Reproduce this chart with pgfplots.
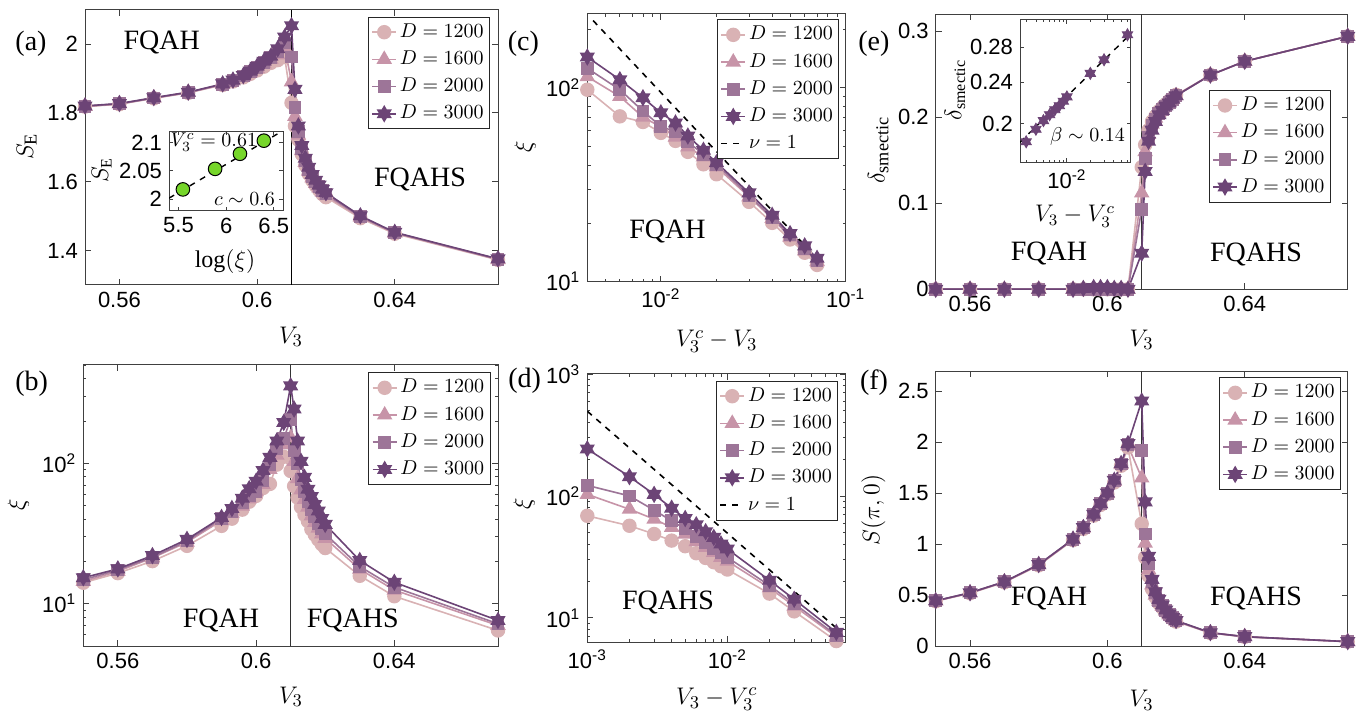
\documentclass[border=0pt]{standalone}
\usepackage{fontspec}
\setmainfont{Liberation Serif}
\newfontfamily\tickfont{Liberation Sans}
\usepackage{pgfplots}
\pgfplotsset{compat=1.18}
\definecolor{c1}{RGB}{217,178,180}
\definecolor{c2}{RGB}{199,148,168}
\definecolor{c3}{RGB}{157,117,152}
\definecolor{c4}{RGB}{108,68,118}
\definecolor{gr}{RGB}{118,214,42}
\newcommand{\tickfs}{\tickfont\fontsize{11}{13}\selectfont}
\newcommand{\legfs}{\fontsize{10}{12}\selectfont}
\newcommand{\labfs}{\fontsize{13}{15}\selectfont}
\newcommand{\phfs}{\fontsize{14}{16}\selectfont}
\newcommand{\insfs}{\fontsize{10}{12}\selectfont}
\newcommand{\inslabfs}{\fontsize{12}{14}\selectfont}
\pgfdeclareplotmark{hexagram}{%
  \pgfpathmoveto{\pgfqpointpolar{90}{\pgfplotmarksize}}%
  \pgfpathlineto{\pgfqpointpolar{210}{\pgfplotmarksize}}%
  \pgfpathlineto{\pgfqpointpolar{330}{\pgfplotmarksize}}%
  \pgfpathclose
  \pgfpathmoveto{\pgfqpointpolar{270}{\pgfplotmarksize}}%
  \pgfpathlineto{\pgfqpointpolar{30}{\pgfplotmarksize}}%
  \pgfpathlineto{\pgfqpointpolar{150}{\pgfplotmarksize}}%
  \pgfpathclose
  \pgfusepathqfillstroke
}
\pgfplotsset{
  base/.style={scale only axis, anchor=south west,
    axis line style={draw=black!75, line width=0.5pt},
    tick style={draw=black!75, line width=0.4pt},
    major tick length=3pt, minor tick length=1.6pt, tick align=inside,
    tick label style={font=\tickfs},
    legend cell align=left,
    legend style={draw=black!85, line width=0.5pt, font=\legfs, fill=white,
      inner xsep=1.5pt, inner ysep=1pt, row sep=0.6pt,
      nodes={text height=7pt, text depth=2pt, inner ysep=2pt, inner xsep=1.5pt}},
    legend image code/.code={\draw[mark repeat=2,mark phase=2,##1] plot coordinates {(0cm,0cm)(0.21cm,0cm)(0.42cm,0cm)};},
  },
  lxl/.style={xticklabel={\pgfmathparse{int(round(\tick/2.302585093))}10\textsuperscript{\pgfmathresult}}},
  lyl/.style={yticklabel={\pgfmathparse{int(round(\tick/2.302585093))}10\textsuperscript{\pgfmathresult}}},
  s1/.style={color=c1, line width=0.8pt, mark=*, mark size=3.2pt, mark options={solid, fill=c1, draw=c1}},
  s2/.style={color=c2, line width=0.8pt, mark=triangle*, mark size=3.7pt, mark options={solid, fill=c2, draw=c2}},
  s3/.style={color=c3, line width=0.8pt, mark=square*, mark size=2.8pt, mark options={solid, fill=c3, draw=c3}},
  s4/.style={color=c4, line width=0.8pt, mark=hexagram, mark size=3.6pt, mark options={solid, fill=c4, draw=c4}},
  vline/.style={black!80, line width=0.6pt, mark=none, forget plot},
  nu/.style={black, dashed, line width=0.8pt, mark=none},
  vtick/.style={xmin=0.55, xmax=0.67, xtick={0.56,0.6,0.64}, xticklabels={0.56,0.6,0.64}},
}
\begin{document}
\begin{tikzpicture}
\path[use as bounding box] (0,0) rectangle (682pt,356.5pt);

% ---------- (a)
\begin{axis}[base, vtick, at={(42.5pt,214pt)}, width=206.5pt, height=137.75pt,
  ymin=1.3, ymax=2.1, ytick={1.4,1.6,1.8,2}, yticklabels={1.4,1.6,1.8,2},
  legend style={at={(0.9813,0.9739)}, anchor=north east}]
\addplot[vline, black] coordinates {(0.61,1.3) (0.61,2.1)};
\addplot[s1] coordinates {(0.55,1.818)(0.56,1.825)(0.57,1.842)(0.58,1.858)(0.59,1.881)(0.593,1.891)(0.596,1.903)(0.598,1.913)(0.6,1.923)(0.602,1.934)(0.604,1.945)(0.606,1.953)(0.608,1.962)(0.61,1.829)(0.611,1.762)(0.612,1.722)(0.613,1.680)(0.614,1.648)(0.615,1.623)(0.616,1.604)(0.617,1.589)(0.618,1.576)(0.619,1.564)(0.62,1.555)(0.63,1.494)(0.64,1.449)(0.67,1.373)};
\addlegendentry{$D=1200$}
\addplot[s2] coordinates {(0.55,1.819)(0.56,1.826)(0.57,1.843)(0.58,1.859)(0.59,1.882)(0.593,1.893)(0.596,1.905)(0.598,1.917)(0.6,1.929)(0.602,1.942)(0.604,1.955)(0.606,1.968)(0.608,1.990)(0.61,1.890)(0.611,1.790)(0.612,1.735)(0.613,1.690)(0.614,1.656)(0.615,1.631)(0.616,1.611)(0.617,1.595)(0.618,1.582)(0.619,1.570)(0.62,1.560)(0.63,1.497)(0.64,1.451)(0.67,1.374)};
\addlegendentry{$D=1600$}
\addplot[s3] coordinates {(0.55,1.819)(0.56,1.826)(0.57,1.843)(0.58,1.859)(0.59,1.883)(0.593,1.894)(0.596,1.907)(0.598,1.919)(0.6,1.932)(0.602,1.946)(0.604,1.960)(0.606,1.977)(0.608,2.003)(0.61,1.962)(0.611,1.815)(0.612,1.745)(0.613,1.697)(0.614,1.662)(0.615,1.636)(0.616,1.615)(0.617,1.599)(0.618,1.586)(0.619,1.574)(0.62,1.564)(0.63,1.499)(0.64,1.452)(0.67,1.375)};
\addlegendentry{$D=2000$}
\addplot[s4] coordinates {(0.55,1.820)(0.56,1.827)(0.57,1.844)(0.58,1.860)(0.59,1.884)(0.593,1.895)(0.596,1.908)(0.598,1.921)(0.6,1.935)(0.602,1.950)(0.604,1.964)(0.606,1.986)(0.608,2.020)(0.61,2.053)(0.611,1.868)(0.612,1.762)(0.613,1.705)(0.614,1.668)(0.615,1.642)(0.616,1.621)(0.617,1.604)(0.618,1.590)(0.619,1.578)(0.62,1.568)(0.63,1.501)(0.64,1.453)(0.67,1.376)};
\addlegendentry{$D=3000$}
\end{axis}

% ---------- (a) inset
\begin{axis}[base, at={(84.5pt,251.15pt)}, width=57.15pt, height=39.85pt,
  xmin=5.4, xmax=6.6, ymin=1.98, ymax=2.12, major tick length=2pt,
  xtick={5.5,6,6.5}, xticklabels={5.5,6,6.5}, ytick={2,2.05,2.1}, yticklabels={2,2.05,2.1},
  axis background/.style={fill=white}]
\addplot[only marks, mark=*, mark size=3.4pt, mark options={fill=gr, draw=black, line width=0.5pt}] coordinates {(5.546,2.0174)(5.884,2.0535)(6.145,2.080)(6.396,2.103)};
\addplot[black, dashed, line width=0.7pt, mark=none] coordinates {(5.4,2.002)(6.6,2.121)};
\node[anchor=west, font=\insfs, inner sep=0pt] at (rel axis cs:0.01,0.86) {$V_3^c=0.61$};
\node[anchor=east, font=\insfs, inner sep=0pt] at (rel axis cs:0.93,0.14) {$c\sim 0.6$};
\end{axis}

% ---------- (b)
\begin{axis}[base, vtick, ymode=log, lyl, at={(41.65pt,33.5pt)}, width=207.35pt, height=140.5pt,
  ymin=5, ymax=500,
  legend style={at={(0.9824,0.974)}, anchor=north east}]
\addplot[vline] coordinates {(0.61,5) (0.61,500)};
\addplot[s1] coordinates {(0.55,14.1)(0.56,16.5)(0.57,20.1)(0.58,25.8)(0.59,35.8)(0.593,40.3)(0.596,46.7)(0.598,53.2)(0.6,58.5)(0.602,66.6)(0.604,71.2)(0.606,97.7)(0.608,111)(0.61,88)(0.611,68.7)(0.612,56.9)(0.613,48.7)(0.614,43.0)(0.615,38.7)(0.616,33.9)(0.617,31.0)(0.618,28.6)(0.619,26.5)(0.62,24.9)(0.63,15.8)(0.64,11.3)(0.67,6.45)};
\addlegendentry{$D=1200$}
\addplot[s2] coordinates {(0.55,14.4)(0.56,17.0)(0.57,21.2)(0.58,27.4)(0.59,39.1)(0.593,44.0)(0.596,49.5)(0.598,55.7)(0.6,62.8)(0.602,70.6)(0.604,90.2)(0.606,114)(0.608,135)(0.61,152)(0.611,103)(0.612,77.8)(0.613,64.5)(0.614,55.2)(0.615,48.7)(0.616,42.2)(0.617,37.9)(0.618,34.5)(0.619,31.4)(0.62,29.2)(0.63,17.6)(0.64,12.5)(0.67,7.0)};
\addlegendentry{$D=1600$}
\addplot[s3] coordinates {(0.55,14.8)(0.56,17.4)(0.57,21.4)(0.58,27.9)(0.59,40.3)(0.593,45.4)(0.596,52.5)(0.598,59.2)(0.6,63.2)(0.602,75.8)(0.604,97.7)(0.606,126)(0.608,150)(0.61,205)(0.611,122)(0.612,100)(0.613,76.4)(0.614,62.5)(0.615,53.5)(0.616,46.6)(0.617,41.7)(0.618,37.2)(0.619,34.1)(0.62,31.4)(0.63,18.4)(0.64,13.1)(0.67,7.2)};
\addlegendentry{$D=2000$}
\addplot[s4] coordinates {(0.55,15.3)(0.56,17.7)(0.57,22.0)(0.58,28.7)(0.59,41.1)(0.593,47.6)(0.596,56.4)(0.598,65.8)(0.6,74.3)(0.602,88.8)(0.604,110)(0.606,144)(0.608,195)(0.61,355)(0.611,243)(0.612,143.8)(0.613,103)(0.614,79.3)(0.615,65.3)(0.616,58.0)(0.617,50.9)(0.618,45.7)(0.619,40.4)(0.62,36.7)(0.63,20.3)(0.64,14.2)(0.67,7.6)};
\addlegendentry{$D=3000$}
\end{axis}

% ---------- (c)
\begin{axis}[base, xmode=log, ymode=log, lxl, lyl, at={(293.65pt,215.65pt)}, width=129.2pt, height=133.85pt,
  xmin=0.004, xmax=0.1, ymin=10, ymax=240,
  ytick={10,100}, minor ytick={20,30,40,50,60,70,80,90,200},
  legend style={at={(0.9752,0.98)}, anchor=north east}]
\addplot[s1] coordinates {(0.004,97.7)(0.006,71.2)(0.008,66.6)(0.01,58.5)(0.012,53.2)(0.014,46.7)(0.017,40.3)(0.02,35.8)(0.03,25.8)(0.04,20.1)(0.05,16.5)(0.06,14.1)(0.07,12.2)};
\addlegendentry{$D=1200$}
\addplot[s2] coordinates {(0.004,114)(0.006,90.2)(0.008,70.6)(0.01,62.8)(0.012,55.7)(0.014,49.5)(0.017,44.0)(0.02,39.1)(0.03,27.4)(0.04,21.2)(0.05,17.0)(0.06,14.4)(0.07,12.7)};
\addlegendentry{$D=1600$}
\addplot[s3] coordinates {(0.004,126)(0.006,97.7)(0.008,75.8)(0.01,63.2)(0.012,59.2)(0.014,52.5)(0.017,45.4)(0.02,40.3)(0.03,27.9)(0.04,21.4)(0.05,17.4)(0.06,14.8)(0.07,12.9)};
\addlegendentry{$D=2000$}
\addplot[s4] coordinates {(0.004,144)(0.006,110)(0.008,88.8)(0.01,74.3)(0.012,65.8)(0.014,56.4)(0.017,47.6)(0.02,41.1)(0.03,28.7)(0.04,22.0)(0.05,17.7)(0.06,15.3)(0.07,13.2)};
\addlegendentry{$D=3000$}
\addplot[nu] coordinates {(0.0043,222)(0.07,13.2)};
\addlegendentry{$\nu=1$}
\end{axis}

% ---------- (d)
\begin{axis}[base, xmode=log, ymode=log, lxl, lyl, at={(293.65pt,35.35pt)}, width=129.2pt, height=134.15pt,
  xmin=0.001, xmax=0.07, ymin=6.3, ymax=1000,
  legend style={at={(0.9713,0.975)}, anchor=north east}]
\addplot[s1] coordinates {(0.001,68.7)(0.002,56.9)(0.003,48.7)(0.004,43.0)(0.005,38.7)(0.006,33.9)(0.007,31.0)(0.008,28.6)(0.009,26.5)(0.01,24.9)(0.02,15.8)(0.03,11.3)(0.06,6.45)};
\addlegendentry{$D=1200$}
\addplot[s2] coordinates {(0.001,103)(0.002,77.8)(0.003,64.5)(0.004,55.2)(0.005,48.7)(0.006,42.2)(0.007,37.9)(0.008,34.5)(0.009,31.4)(0.01,29.2)(0.02,17.6)(0.03,12.5)(0.06,7.0)};
\addlegendentry{$D=1600$}
\addplot[s3] coordinates {(0.001,122)(0.002,100)(0.003,76.4)(0.004,62.5)(0.005,53.5)(0.006,46.6)(0.007,41.7)(0.008,37.2)(0.009,34.1)(0.01,31.4)(0.02,18.4)(0.03,13.1)(0.06,7.2)};
\addlegendentry{$D=2000$}
\addplot[s4] coordinates {(0.001,243)(0.002,143.8)(0.003,103)(0.004,79.3)(0.005,65.3)(0.006,58.0)(0.007,50.9)(0.008,45.7)(0.009,40.4)(0.01,36.7)(0.02,20.3)(0.03,14.2)(0.06,7.6)};
\addlegendentry{$D=3000$}
\addplot[nu] coordinates {(0.001,495)(0.0615,8.05)};
\addlegendentry{$\nu=1$}
\end{axis}

% ---------- (e)
\begin{axis}[base, vtick, at={(467.85pt,211.85pt)}, width=206pt, height=137.65pt,
  ymin=0, ymax=0.32, ytick={0,0.1,0.2,0.3}, yticklabels={0,0.1,0.2,0.3},
  legend style={at={(0.9595,0.724)}, anchor=north east}]
\addplot[vline] coordinates {(0.61,0) (0.61,0.32)};
\addplot[s1] coordinates {(0.55,0)(0.56,0)(0.57,0)(0.58,0)(0.59,0)(0.593,0)(0.596,0)(0.598,0)(0.6,0)(0.602,0)(0.604,0)(0.606,0)(0.61,0.142)(0.611,0.168)(0.612,0.185)(0.613,0.195)(0.614,0.201)(0.615,0.207)(0.616,0.211)(0.617,0.215)(0.618,0.219)(0.619,0.222)(0.62,0.226)(0.63,0.249)(0.64,0.265)(0.67,0.294)};
\addlegendentry{$D=1200$}
\addplot[s2] coordinates {(0.55,0)(0.56,0)(0.57,0)(0.58,0)(0.59,0)(0.593,0)(0.596,0)(0.598,0)(0.6,0)(0.602,0)(0.604,0)(0.606,0)(0.61,0.112)(0.611,0.160)(0.612,0.180)(0.613,0.192)(0.614,0.199)(0.615,0.205)(0.616,0.210)(0.617,0.214)(0.618,0.218)(0.619,0.221)(0.62,0.225)(0.63,0.249)(0.64,0.265)(0.67,0.294)};
\addlegendentry{$D=1600$}
\addplot[s3] coordinates {(0.55,0)(0.56,0)(0.57,0)(0.58,0)(0.59,0)(0.593,0)(0.596,0)(0.598,0)(0.6,0)(0.602,0)(0.604,0)(0.606,0)(0.61,0.093)(0.611,0.152)(0.612,0.177)(0.613,0.190)(0.614,0.197)(0.615,0.204)(0.616,0.209)(0.617,0.213)(0.618,0.217)(0.619,0.221)(0.62,0.225)(0.63,0.249)(0.64,0.265)(0.67,0.294)};
\addlegendentry{$D=2000$}
\addplot[s4] coordinates {(0.55,0)(0.56,0)(0.57,0)(0.58,0)(0.59,0)(0.593,0.001)(0.596,0.002)(0.598,0.002)(0.6,0.002)(0.602,0.001)(0.604,0.001)(0.606,0)(0.61,0.042)(0.611,0.137)(0.612,0.172)(0.613,0.185)(0.614,0.195)(0.615,0.203)(0.616,0.208)(0.617,0.213)(0.618,0.2165)(0.619,0.221)(0.62,0.225)(0.63,0.249)(0.64,0.265)(0.67,0.294)};
\addlegendentry{$D=3000$}
\end{axis}

% ---------- (e) inset
\begin{axis}[base, at={(510pt,275.35pt)}, width=55.35pt, height=71.15pt,
  xmode=log, ymode=log, xmin=0.0025, xmax=0.066, ymin=0.169, ymax=0.315, major tick length=2pt, minor tick length=1.2pt,
  xtick={0.01}, xticklabels={10\textsuperscript{-2}},
  minor xtick={0.003,0.004,0.005,0.006,0.007,0.008,0.009,0.02,0.03,0.04,0.05,0.06},
  ytick={0.2,0.24,0.28}, yticklabels={0.2,0.24,0.28},
  axis background/.style={fill=white}]
\addplot[black, dashed, line width=0.7pt, mark=none] coordinates {(0.0025,0.1845)(0.066,0.2965)};
\addplot[only marks, mark=hexagram, mark size=3pt, mark options={fill=c4, draw=c4}] coordinates {(0.003,0.1849)(0.004,0.1953)(0.005,0.2028)(0.006,0.2081)(0.007,0.2127)(0.008,0.2165)(0.009,0.2208)(0.01,0.2250)(0.02,0.2494)(0.03,0.2647)(0.06,0.2953)};
\node[font=\insfs, inner sep=0pt] at (rel axis cs:0.61,0.18) {$\beta\sim 0.14$};
\end{axis}

% ---------- (f)
\begin{axis}[base, vtick, at={(467.85pt,33.5pt)}, width=206pt, height=137.5pt,
  ymin=0, ymax=2.7, ytick={0,0.5,1,1.5,2,2.5}, yticklabels={0,0.5,1,1.5,2,2.5},
  legend style={at={(0.9842,0.977)}, anchor=north east}]
\addplot[vline] coordinates {(0.61,0) (0.61,2.7)};
\addplot[s1] coordinates {(0.55,0.440)(0.56,0.518)(0.57,0.625)(0.58,0.792)(0.59,1.040)(0.593,1.150)(0.596,1.280)(0.598,1.385)(0.6,1.490)(0.602,1.605)(0.604,1.770)(0.606,1.950)(0.61,1.200)(0.611,0.870)(0.612,0.690)(0.613,0.560)(0.614,0.480)(0.615,0.420)(0.616,0.375)(0.617,0.333)(0.618,0.298)(0.619,0.268)(0.62,0.240)(0.63,0.128)(0.64,0.090)(0.67,0.042)};
\addlegendentry{$D=1200$}
\addplot[s2] coordinates {(0.55,0.442)(0.56,0.521)(0.57,0.628)(0.58,0.796)(0.59,1.045)(0.593,1.158)(0.596,1.288)(0.598,1.393)(0.6,1.497)(0.602,1.617)(0.604,1.782)(0.606,1.968)(0.61,1.650)(0.611,1.010)(0.612,0.750)(0.613,0.600)(0.614,0.500)(0.615,0.440)(0.616,0.390)(0.617,0.343)(0.618,0.306)(0.619,0.275)(0.62,0.245)(0.63,0.129)(0.64,0.091)(0.67,0.043)};
\addlegendentry{$D=1600$}
\addplot[s3] coordinates {(0.55,0.443)(0.56,0.522)(0.57,0.630)(0.58,0.798)(0.59,1.047)(0.593,1.160)(0.596,1.291)(0.598,1.396)(0.6,1.500)(0.602,1.622)(0.604,1.787)(0.606,1.978)(0.61,1.920)(0.611,1.100)(0.612,0.810)(0.613,0.630)(0.614,0.520)(0.615,0.450)(0.616,0.395)(0.617,0.348)(0.618,0.310)(0.619,0.278)(0.62,0.247)(0.63,0.130)(0.64,0.091)(0.67,0.043)};
\addlegendentry{$D=2000$}
\addplot[s4] coordinates {(0.55,0.444)(0.56,0.523)(0.57,0.631)(0.58,0.800)(0.59,1.049)(0.593,1.163)(0.596,1.294)(0.598,1.399)(0.6,1.503)(0.602,1.627)(0.604,1.791)(0.606,1.987)(0.61,2.405)(0.611,1.415)(0.612,0.880)(0.613,0.654)(0.614,0.533)(0.615,0.458)(0.616,0.402)(0.617,0.353)(0.618,0.314)(0.619,0.281)(0.62,0.250)(0.63,0.131)(0.64,0.092)(0.67,0.043)};
\addlegendentry{$D=3000$}
\end{axis}

% ---------- annotations (pixel coordinates, origin top-left)
\begin{scope}[x=0.5pt,y=-0.5pt,yshift=356.5pt]
\begin{scope}[font=\phfs]
\node at (31,44) {(a)};
\node at (31.7,383.3) {(b)};
\node at (523.3,44) {(c)};
\node at (524.7,380.7) {(d)};
\node at (873.8,43.3) {(e)};
\node at (874,382.7) {(f)};
\node at (161.7,42.7) {FQAH};
\node at (420,179.3) {FQAHS};
\node at (221,620) {FQAH};
\node at (352.8,620) {FQAHS};
\node at (667.5,231.7) {FQAH};
\node at (668,602.7) {FQAHS};
\node at (1049,254) {FQAH};
\node at (1256,255) {FQAHS};
\node at (1049,598.3) {FQAH};
\node at (1256,598.3) {FQAHS};
\end{scope}
\begin{scope}[font=\labfs]
\node at (291,336.7) {$V_3$};
\node[rotate=90] at (26.7,146.7) {$S_{\mathrm{E}}$};
\node at (291,696.7) {$V_3$};
\node[rotate=90] at (18.3,505) {$\xi$};
\node at (716.7,341.7) {$V_3^c-V_3$};
\node[rotate=90] at (525,146.7) {$\xi$};
\node at (716.7,699.5) {$V_3-V_3^c$};
\node[rotate=90] at (524,503.3) {$\xi$};
\node at (1141.7,340) {$V_3$};
\node[rotate=90] at (878.3,150) {$\delta_{\mathrm{smectic}}$};
\node at (1141.7,700) {$V_3$};
\node[rotate=90] at (873.3,510) {$S(\pi,0)$};
\end{scope}
\begin{scope}[font=\inslabfs]
\node[rotate=90] at (101.7,170) {$S_{\mathrm{E}}$};
\node at (225,261.7) {$\log(\xi)$};
\node[rotate=90] at (955,90) {$\delta_{\mathrm{smectic}}$};
\node at (1075,216.7) {$V_3-V_3^c$};
\end{scope}
\end{scope}
\end{tikzpicture}
\end{document}
